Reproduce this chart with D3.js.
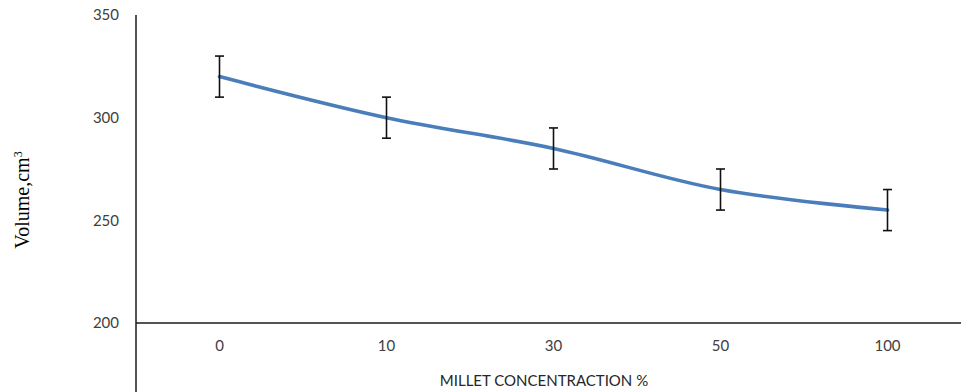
<!DOCTYPE html>
<html>
<head>
<meta charset="utf-8">
<script src="https://d3js.org/d3.v7.min.js"></script>
<style>
  body { margin: 0; background: #fff; }
  svg { display: block; }
  .tick-label { font-family: Lato, 'Open Sans', sans-serif; font-size: 15px; fill: #404040; }
  .axis-title { font-family: Lato, 'Open Sans', sans-serif; font-size: 15px; fill: #262626; }
  .y-title { font-family: 'Liberation Serif', 'DejaVu Serif', serif; font-size: 20px; fill: #000; }
</style>
</head>
<body>
<svg id="chart" width="961" height="392"></svg>
<script>
// chart data
const categories = ['0', '10', '30', '50', '100'];
const volumes = [320, 300, 285, 265, 255];
const errors = [10, 10, 10, 10, 10];
const yTicks = [200, 250, 300, 350];

const width = 961, height = 392;
const plotLeft = 136, axisY = 323, plotTop = 15;
const bandW = 167;

const svg = d3.select('#chart');

const x = d3.scaleBand()
  .domain(categories)
  .range([plotLeft, plotLeft + bandW * categories.length]);

const y = d3.scaleLinear()
  .domain([200, 350])
  .range([axisY, plotTop]);

const points = categories.map((c, i) => ({ c, v: volumes[i], e: errors[i] }));

// y tick labels (no tick marks)
svg.append('g')
  .selectAll('text')
  .data(yTicks)
  .join('text')
  .attr('class', 'tick-label')
  .attr('x', plotLeft - 17)
  .attr('y', d => y(d))
  .attr('dy', '0.35em')
  .attr('text-anchor', 'end')
  .text(d => d);

// x tick labels
svg.append('g')
  .selectAll('text')
  .data(categories)
  .join('text')
  .attr('class', 'tick-label')
  .attr('x', d => x(d) + x.bandwidth() / 2)
  .attr('y', axisY + 28)
  .attr('text-anchor', 'middle')
  .text(d => d);

// axes lines
svg.append('line')
  .attr('x1', plotLeft).attr('x2', width)
  .attr('y1', axisY).attr('y2', axisY)
  .attr('stroke', '#1a1a1a').attr('stroke-width', 1.5);

svg.append('line')
  .attr('x1', plotLeft).attr('x2', plotLeft)
  .attr('y1', plotTop).attr('y2', height)
  .attr('stroke', '#1a1a1a').attr('stroke-width', 1.5);

// smoothed line
const line = d3.line()
  .x(d => x(d.c) + x.bandwidth() / 2)
  .y(d => y(d.v))
  .curve(d3.curveCatmullRom.alpha(0.5));

svg.append('path')
  .datum(points)
  .attr('d', line)
  .attr('fill', 'none')
  .attr('stroke', '#4a7ebb')
  .attr('stroke-width', 3.6)
  .attr('stroke-linecap', 'round');

// error bars
const eb = svg.append('g')
  .attr('stroke', '#111')
  .attr('stroke-width', 1.6);

points.forEach(d => {
  const cx = x(d.c) + x.bandwidth() / 2;
  eb.append('line')
    .attr('x1', cx).attr('x2', cx)
    .attr('y1', y(d.v + d.e)).attr('y2', y(d.v - d.e));
  [d.v + d.e, d.v - d.e].forEach(v => {
    eb.append('line')
      .attr('x1', cx - 4.5).attr('x2', cx + 4.5)
      .attr('y1', y(v)).attr('y2', y(v));
  });
});

// axis titles
svg.append('text')
  .attr('class', 'axis-title')
  .attr('x', 544)
  .attr('y', 386)
  .attr('text-anchor', 'middle')
  .text('MILLET CONCENTRACTION %');

const yt = svg.append('text')
  .attr('class', 'y-title')
  .attr('transform', 'translate(29,200) rotate(-90)')
  .attr('text-anchor', 'middle');
yt.append('tspan').text('Volume,cm');
yt.append('tspan').attr('baseline-shift', 'super').attr('font-size', '12px').text('3');
</script>
</body>
</html>
